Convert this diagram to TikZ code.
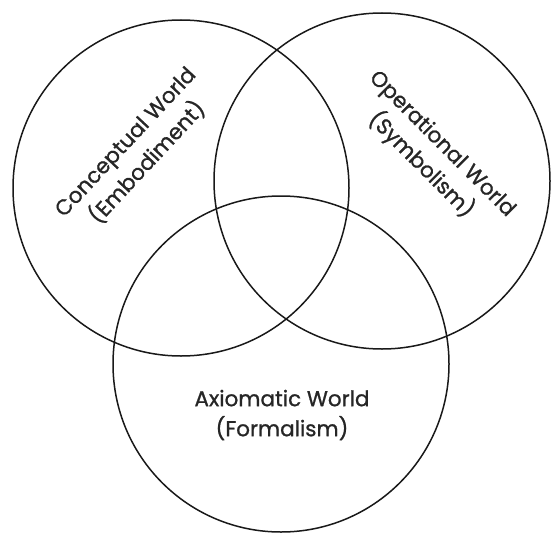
\documentclass[tikz,border=0pt]{standalone}
\usepackage{fontspec}
\setmainfont{Poppins}[FakeBold=1]
\usepackage{tikz}

\begin{document}
\begin{tikzpicture}[
  x=1pt,y=-1pt,
  ring/.style={circle,draw=black!90,line width=1.5pt,minimum size=336pt,inner sep=0pt},
  world/.style={align=center,inner sep=0pt,font=\fontsize{21.5}{30}\selectfont,text=black!85}
]
\useasboundingbox (0,0) rectangle (551,535);
\node[ring] (conc) at (181,188) {};
\node[ring] (oper) at (382,181) {};
\node[ring] (axio) at (281,364) {};
\node[world,rotate=47] (conclbl) at (137,153) {Conceptual World\\(Embodiment)};
\node[world,rotate=-45] (operlbl) at (431,155) {Operational World\\(Symbolism)};
\node[world] (axiolbl) at (282,415) {Axiomatic World\\(Formalism)};
\end{tikzpicture}
\end{document}
